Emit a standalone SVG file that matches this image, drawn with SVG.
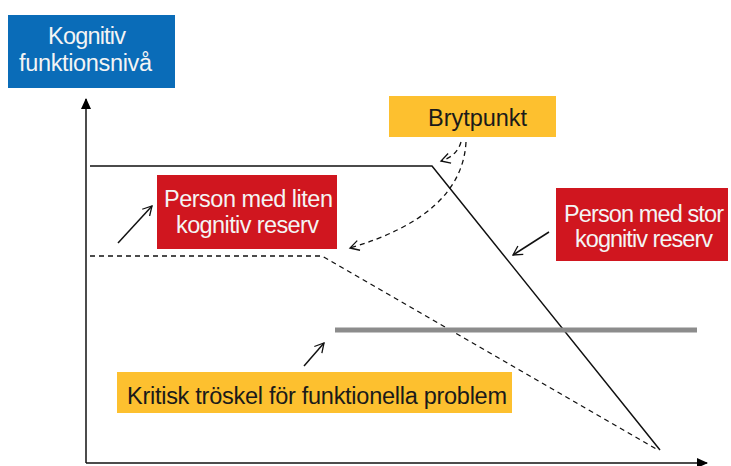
<svg xmlns="http://www.w3.org/2000/svg" width="731" height="466" viewBox="0 0 731 466">
<style>
.t{font-family:"Liberation Sans",Arial,sans-serif;font-size:23.5px;text-anchor:middle}
.w{fill:#f4f4f4}
.d{fill:#1a1a1a}
.ln{fill:none;stroke:#111;stroke-width:1.5}
.ds{fill:none;stroke:#111;stroke-width:1.3;stroke-dasharray:5 4}
</style>
<defs>
<marker id="tri" markerWidth="12" markerHeight="10" refX="10" refY="5" orient="auto" markerUnits="userSpaceOnUse">
<path d="M0,0 L11,5 L0,10 Z" fill="#000"/>
</marker>
<marker id="open" markerWidth="12" markerHeight="12" refX="10" refY="6" orient="auto" markerUnits="userSpaceOnUse">
<path d="M1,1 L10,6 L1,11" fill="none" stroke="#111" stroke-width="1.3"/>
</marker>
</defs>
<rect width="731" height="466" fill="#fff"/>
<g id="connectors">
<line class="ln" x1="86" y1="463" x2="86" y2="99" marker-end="url(#tri)"/>
<line class="ln" x1="86" y1="463" x2="707" y2="463" marker-end="url(#tri)"/>
<polyline class="ln" points="90,166 432,166 660,450"/>
<polyline class="ds" points="90,256 322,256 658,450"/>
<line x1="335" y1="330" x2="697" y2="330" stroke="#8c8c8c" stroke-width="5"/>
<path class="ds" d="M461,142 Q457,156 441,161" marker-end="url(#open)"/>
<path class="ds" d="M466,142 Q462,215 350,248" marker-end="url(#open)"/>
<line class="ln" x1="118" y1="243" x2="152" y2="206" marker-end="url(#open)"/>
<line class="ln" x1="549" y1="232" x2="513" y2="255" marker-end="url(#open)"/>
<line class="ln" x1="304" y1="366" x2="324" y2="343" marker-end="url(#open)"/>
</g>
<g id="yaxis-label">
<rect x="8" y="15" width="167" height="73" fill="#0a6cb8"/>
<text class="t w" x="87" y="44" textLength="78">Kognitiv</text>
<text class="t w" x="85.5" y="71" textLength="133">funktionsnivå</text>
</g>
<g id="brytpunkt">
<rect x="389" y="96" width="167" height="41" fill="#fdc02f"/>
<text class="t d" x="477.5" y="126" textLength="99">Brytpunkt</text>
</g>
<g id="liten">
<rect x="157" y="175" width="180" height="74" fill="#d0161f"/>
<text class="t w" x="248.5" y="207" textLength="169">Person med liten</text>
<text class="t w" x="247.5" y="233" textLength="143">kognitiv reserv</text>
</g>
<g id="stor">
<rect x="556" y="188" width="172" height="73" fill="#d0161f"/>
<text class="t w" x="644" y="222" textLength="160">Person med stor</text>
<text class="t w" x="644" y="247" textLength="138">kognitiv reserv</text>
</g>
<g id="troskel">
<rect x="117" y="372" width="395" height="41" fill="#fdc02f"/>
<text class="t d" x="317" y="404" textLength="380">Kritisk tröskel för funktionella problem</text>
</g>
</svg>
